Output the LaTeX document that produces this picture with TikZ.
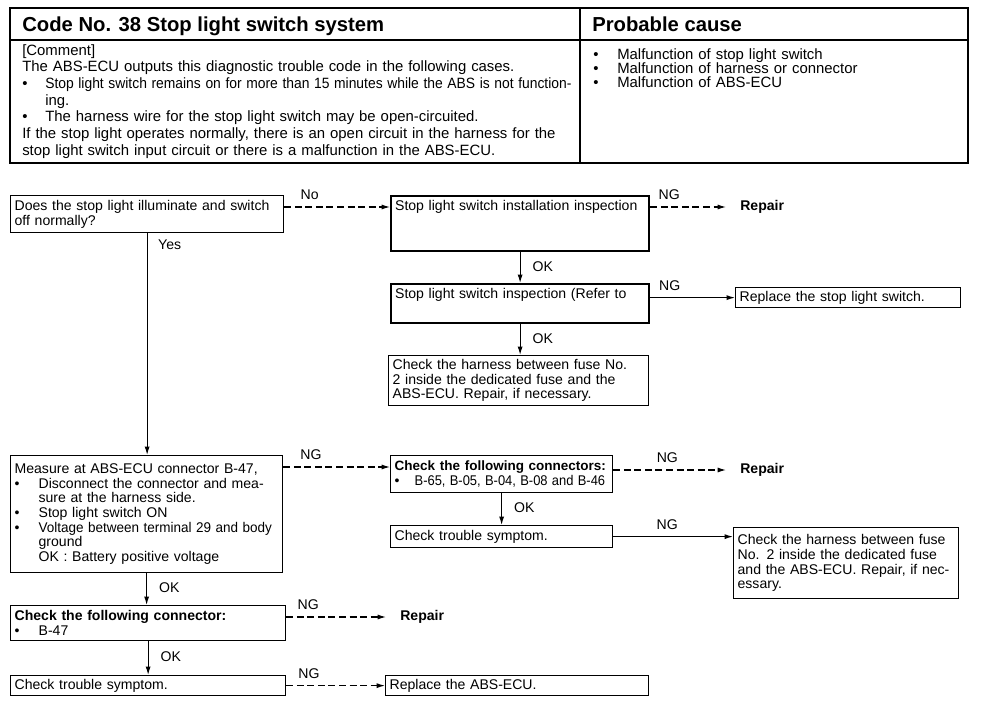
\documentclass[tikz,border=0pt]{standalone}
\usepackage{fontspec}
\setmainfont{Liberation Sans}
\usepackage{graphicx}
\usetikzlibrary{arrows.meta}

\newdimen\pxu \pxu=0.025cm
\newcommand\flowfont{\fontsize{10}{10.45}\selectfont}
\newcommand\headfont{\fontsize{10.6}{11.87}\selectfont}
\newcommand\causefont{\fontsize{10.6}{10}\selectfont}
\newcommand\titlefont{\fontsize{14.4}{16}\selectfont\bfseries}
\newcommand\bul[1][24]{\makebox[#1\pxu][l]{\textbullet}}
\newcommand\jl[2]{\makebox[#1\pxu][s]{#2}}

\tikzset{
  box/.style={draw, line width=0.9pt, rectangle, anchor=north west,
    inner xsep=4\pxu, inner ysep=0pt, align=left, font=\flowfont},
  thickbox/.style={box, line width=1.6pt, inner ysep=4\pxu},
  lbl/.style={font=\flowfont, inner sep=1.5pt},
  arr/.style={line width=0.8pt, -{Latex[length=6pt,width=3.6pt]}},
  brk/.style={arr, dash pattern=on 5pt off 2.5pt},
  repair/.style={anchor=west, font=\flowfont\bfseries, inner xsep=14\pxu, inner ysep=0pt},
  head/.style={anchor=base west, inner sep=0pt},
}

\begin{document}
\begin{tikzpicture}[x=\pxu, y=-\pxu]
\useasboundingbox (0,0) rectangle (1008,724);
\fill[white] (0,0) rectangle (1008,724);

% header table
\draw[line width=1.4pt] (10,8) rectangle (968,163);
\draw[line width=1.2pt] (10,40) -- (968,40);
\draw[line width=1.2pt] (580,8) -- (580,163);

\node[head, font=\titlefont] (title) at (22,31) {Code No. 38 Stop light switch system};
\node[head, font=\titlefont] (cause) at (592,31) {Probable cause};

\node[head, font=\headfont, text width=544\pxu, align=left] (comment) at (22,55) {%
[Comment]\\
The ABS-ECU outputs this diagnostic trouble code in the following cases.\\
\bul[23]\scalebox{0.93}[1]{Stop light switch remains on for more than 15 minutes while the ABS is not function-}\\
\hspace*{23\pxu}ing.\\
\bul[23]The harness wire for the stop light switch may be open-circuited.\\
\jl{544}{If the stop light operates normally, there is an open circuit in the harness for the}\\
stop light switch input circuit or there is a malfunction in the ABS-ECU.};

\node[head, font=\causefont, text width=366\pxu, align=left] (causes) at (593,59) {%
\bul Malfunction of stop light switch\\
\bul Malfunction of harness or connector\\
\bul Malfunction of ABS-ECU};

% flow chart boxes
\node[box, text width=265\pxu, minimum height=37\pxu] (ask) at (10,195)
  {Does the stop light illuminate and switch\\off normally?};
\node[thickbox, text width=250\pxu, text depth=37\pxu] (inst) at (390,195)
  {Stop light switch installation inspection};
\node[thickbox, text width=250\pxu, text depth=21\pxu] (insp) at (390,283)
  {Stop light switch inspection (Refer to};
\node[box, text width=252\pxu, minimum height=50\pxu] (harn) at (388,355)
  {\jl{252}{Check the harness between fuse No.}\\
   \jl{252}{2 inside the dedicated fuse and the}\\
   ABS-ECU. Repair, if necessary.};
\node[box, text width=217\pxu, minimum height=20\pxu] (repl) at (735,287)
  {\jl{217}{Replace the stop light switch.}};

\node[box, text width=264\pxu, minimum height=117\pxu] (meas) at (10,455)
  {Measure at ABS-ECU connector B-47,\\
   \bul\jl{240}{Disconnect the connector and mea-}\\
   \hspace*{24\pxu}sure at the harness side.\\
   \bul Stop light switch ON\\
   \bul\scalebox{0.96}[1]{Voltage between terminal 29 and body}\\
   \hspace*{24\pxu}ground\\
   \hspace*{24\pxu}OK : Battery positive voltage};
\node[box, text width=214\pxu, minimum height=37\pxu] (conn) at (390,455)
  {{\fontsize{9.6}{10.45}\selectfont\bfseries Check the following connectors:}\\
   \bul[20]\scalebox{0.92}[1]{B-65, B-05, B-04, B-08 and B-46}};
\node[box, text width=214\pxu, minimum height=22\pxu] (sym) at (390,525)
  {Check trouble symptom.};
\node[box, text width=217\pxu, minimum height=71\pxu] (harn2) at (733,527)
  {\jl{217}{Check the harness between fuse}\\
   \jl{217}{No. 2 inside the dedicated fuse}\\
   \jl{217}{and the ABS-ECU. Repair, if nec-}\\
   essary.};

\node[box, text width=267\pxu, minimum height=35\pxu] (c47) at (10,605)
  {{\bfseries Check the following connector:}\\
   \bul B-47};
\node[box, text width=267\pxu, minimum height=20\pxu] (sym2) at (10,675)
  {Check trouble symptom.};
\node[box, text width=255\pxu, minimum height=20\pxu] (ecu) at (385,675)
  {Replace the ABS-ECU.};

\node[repair] (rep1) at (726,207) {Repair};
\node[repair] (rep2) at (726,470) {Repair};
\node[repair] (rep3) at (386,617) {Repair};

% connectors
\draw[brk] ([yshift=-12\pxu]ask.north east) -- node[lbl, above=3pt, pos=.24] {No} ([yshift=-12\pxu]inst.north west);
\draw[arr] (ask.south) -- node[lbl, right=6pt, pos=.05] {Yes} (ask.south |- meas.north);
\draw[brk] ([yshift=-12\pxu]inst.north east) -- node[lbl, above=3pt, pos=.25] {NG} (rep1.west);
\draw[arr] (inst.south) -- node[lbl, right=7pt, pos=.45] {OK} (insp.north);
\draw[arr] (insp.east |- repl.west) -- node[lbl, above=3pt, pos=.23] {NG} (repl.west);
\draw[arr] (insp.south) -- node[lbl, right=7pt, pos=.45] {OK} (insp.south |- harn.north);

\draw[brk] ([yshift=-12\pxu]meas.north east) -- node[lbl, above=3pt, pos=.26] {NG} ([yshift=-12\pxu]conn.north west);
\draw[brk] (conn.east |- rep2.west) -- node[lbl, above=3pt, pos=.48] {NG} (rep2.west);
\draw[arr] (conn.south) -- node[lbl, right=7pt, pos=.45] {OK} (conn.south |- sym.north);
\draw[arr] (sym.east) -- node[lbl, above=3pt, pos=.45] {NG} (sym.east -| harn2.west);

\draw[arr] (meas.south) -- node[lbl, right=7pt, pos=.45] {OK} (meas.south |- c47.north);
\draw[brk] (c47.east |- rep3.west) -- node[lbl, above=3pt, pos=.22] {NG} (rep3.west);
\draw[arr] (c47.south) -- node[lbl, right=7pt, pos=.45] {OK} (c47.south |- sym2.north);
\draw[brk] (sym2.east) -- node[lbl, above=3pt, pos=.23] {NG} (ecu.west);
\end{tikzpicture}
\end{document}
